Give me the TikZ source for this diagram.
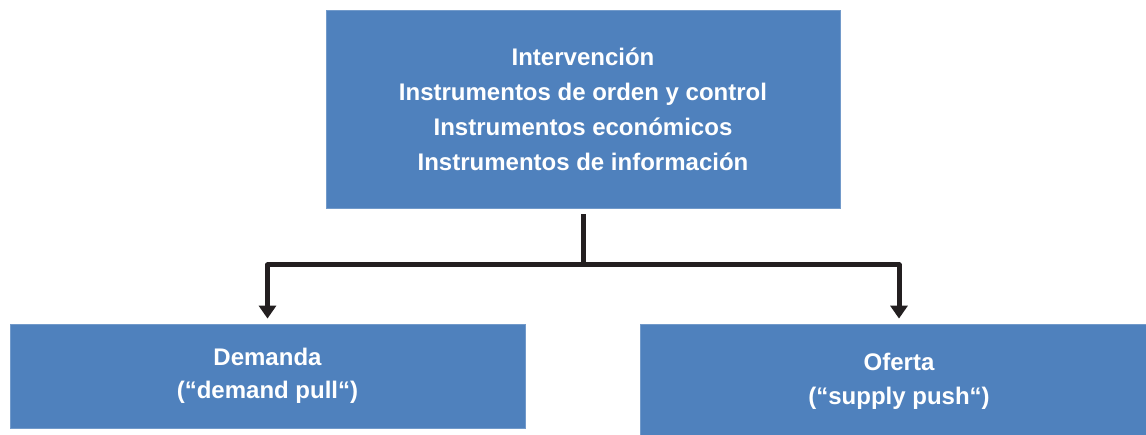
\documentclass[tikz,border=0pt]{standalone}
\usepackage{fontspec}
\setmainfont{Liberation Sans}
\usetikzlibrary{arrows.meta}
\definecolor{boxblue}{HTML}{4F81BD}
\definecolor{lineblack}{HTML}{231F20}
\tikzset{
  box/.style={rectangle, fill=boxblue, draw=boxblue!80!white, line width=0.8pt, text=white, align=center, inner sep=0pt, font=\bfseries\fontsize{24}{35}\selectfont},
  conn/.style={draw=lineblack, line width=5pt, line join=round},
  arr/.style={conn, -{Triangle[width=17pt,length=13pt]}, shorten >=5pt}
}
\begin{document}
\begin{tikzpicture}[x=1pt,y=-1pt]
\useasboundingbox (0,0) rectangle (1146,435);
\node[box, minimum width=514pt, minimum height=198pt] (top) at (583,109)
  {Intervención\\Instrumentos de orden y control\\Instrumentos económicos\\Instrumentos de información};
\node[box, minimum width=515pt, minimum height=104pt, font=\bfseries\fontsize{24}{33}\selectfont] (left) at (267.5,376)
  {Demanda\\(“demand pull“)};
\node[box, minimum width=518pt, minimum height=114pt, font=\bfseries\fontsize{24}{34}\selectfont] (right) at (899,381)
  {Oferta\\(“supply push“)};
\coordinate (j) at (583,265);
\draw[conn] ([yshift=-6pt]top.south) -- (j);
\draw[arr] (j) -| (left.north);
\draw[arr] (j) -| (right.north);
\end{tikzpicture}
\end{document}
